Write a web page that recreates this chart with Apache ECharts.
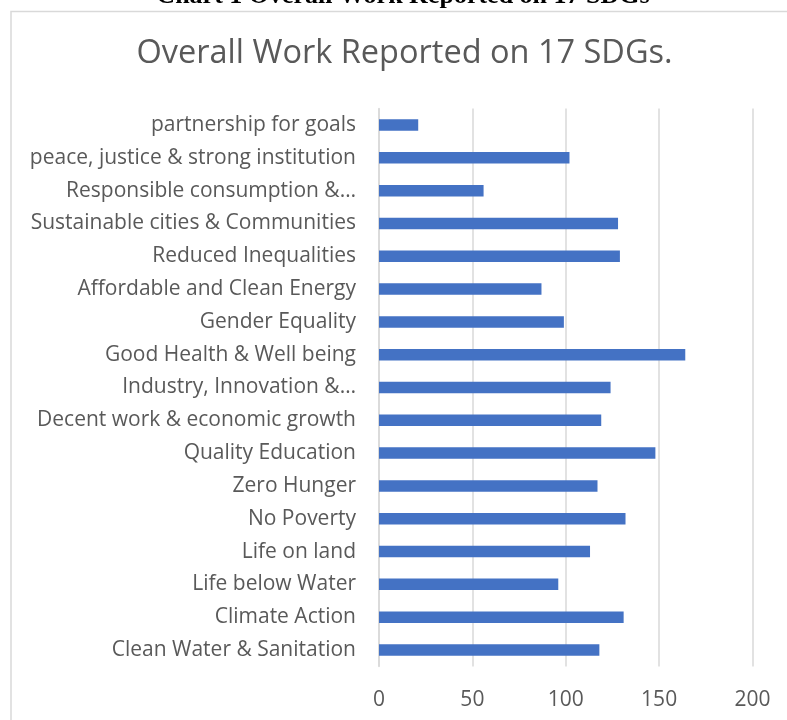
<!DOCTYPE html>
<html>
<head>
<meta charset="utf-8">
<script src="https://cdn.jsdelivr.net/npm/echarts@6/dist/echarts.min.js"></script>
<style>
html,body{margin:0;padding:0;background:#fff;}
#chart{width:787px;height:720px;}
</style>
</head>
<body>
<div id="chart"></div>
<script>
const categories = [
  "Clean Water & Sanitation",
  "Climate Action",
  "Life below Water",
  "Life on land",
  "No Poverty",
  "Zero Hunger",
  "Quality Education",
  "Decent work & economic growth",
  "Industry, Innovation &…",
  "Good Health & Well being",
  "Gender Equality",
  "Affordable and Clean Energy",
  "Reduced Inequalities",
  "Sustainable cities & Communities",
  "Responsible consumption &…",
  "peace, justice & strong institution",
  "partnership for goals"
];
const values = [118, 131, 96, 113, 132, 117, 148, 119, 124, 164, 99, 87, 129, 128, 56, 102, 21];
const xTicks = [0, 50, 100, 150, 200];
const chartTitle = "Overall Work Reported on 17 SDGs.";
const captionText = "Chart 1 Overall Work Reported on 17 SDGs";

const chart = echarts.init(document.getElementById('chart'), null, {renderer: 'canvas'});
const labelColor = '#595959';
const font = '"Open Sans", "Noto Sans", sans-serif';

chart.setOption({
  animation: false,
  backgroundColor: '#ffffff',
  graphic: [
    {
      type: 'rect', silent: true, z: -1,
      shape: {x: 11, y: 11.5, width: 800, height: 720},
      style: {fill: '#ffffff', stroke: '#d9d9d9', lineWidth: 1.5}
    },
    {
      type: 'text', silent: true,
      x: 403, y: 9,
      style: {
        text: captionText, fill: '#000000',
        font: 'bold 26px "Liberation Serif", "Times New Roman", serif',
        align: 'center', verticalAlign: 'bottom'
      }
    },
    {
      type: 'text', silent: true,
      x: 404.5, y: 54,
      style: {
        text: chartTitle, fill: labelColor,
        font: '32.5px ' + font,
        align: 'center', verticalAlign: 'middle'
      }
    }
  ],
  grid: {left: 379, right: 34.5, top: 108.6, bottom: 53.6, containLabel: false},
  xAxis: {
    type: 'value', min: xTicks[0], max: xTicks[xTicks.length - 1], interval: 50,
    axisLine: {show: false}, axisTick: {show: false},
    splitLine: {show: true, lineStyle: {color: '#d9d9d9', width: 1.5}},
    axisLabel: {
      color: labelColor, fontFamily: font, fontSize: 21, margin: 23,
      formatter: v => xTicks.includes(v) ? String(v) : ''
    }
  },
  yAxis: {
    type: 'category', data: categories,
    axisLine: {show: true, lineStyle: {color: '#d9d9d9', width: 1.5}},
    axisTick: {show: false},
    axisLabel: {color: labelColor, fontFamily: font, fontSize: 21, margin: 23}
  },
  series: [{
    type: 'bar', data: values, barWidth: 11.5,
    itemStyle: {color: '#4472C4'}
  }]
});
</script>
</body>
</html>
